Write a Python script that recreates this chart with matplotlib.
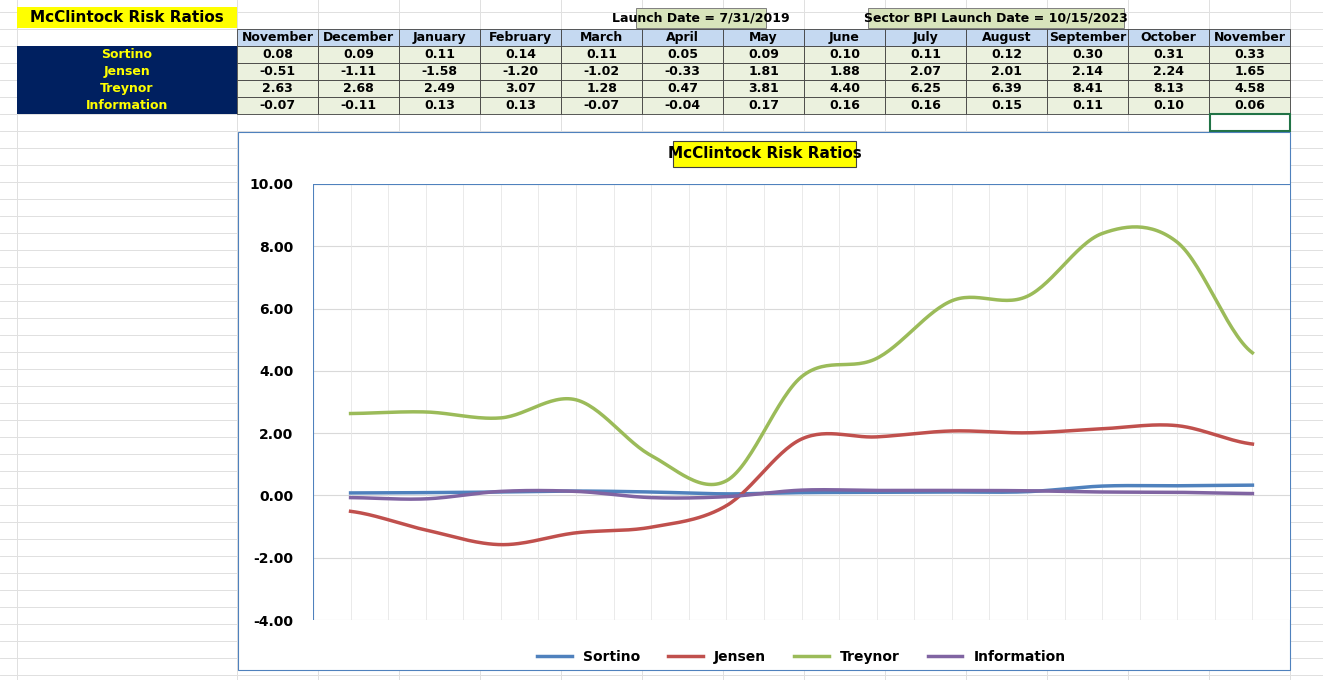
import matplotlib
matplotlib.use("Agg")
import matplotlib.pyplot as plt
import numpy as np
from matplotlib.patches import Rectangle

months = ["November","December","January","February","March","April","May","June",
          "July","August","September","October","November"]
sortino = [0.08,0.09,0.11,0.14,0.11,0.05,0.09,0.10,0.11,0.12,0.30,0.31,0.33]
jensen = [-0.51,-1.11,-1.58,-1.20,-1.02,-0.33,1.81,1.88,2.07,2.01,2.14,2.24,1.65]
treynor = [2.63,2.68,2.49,3.07,1.28,0.47,3.81,4.40,6.25,6.39,8.41,8.13,4.58]
information = [-0.07,-0.11,0.13,0.13,-0.07,-0.04,0.17,0.16,0.16,0.15,0.11,0.10,0.06]
series_names = ["Sortino","Jensen","Treynor","Information"]
series = [sortino, jensen, treynor, information]
colors = ["#4F81BD","#C0504D","#9BBB59","#8064A2"]

W, H = 1323, 680
fig = plt.figure(figsize=(W/100, H/100), dpi=100)
bg = fig.add_axes([0,0,1,1])
bg.set_xlim(0, W); bg.set_ylim(H, 0); bg.axis("off")

# spreadsheet grid
for y in np.arange(11.5, H, 17):
    bg.plot([0, W], [y, y], color="#E0E0E0", lw=0.7, zorder=0)
colx = [17] + [237 + 81*i for i in range(14)]
for x in colx:
    bg.plot([x, x], [0, H], color="#E0E0E0", lw=0.7, zorder=0)

# title cells
bg.add_patch(Rectangle((17, 7), 220, 21, fc="#FFFF00", ec="none"))
bg.text(127, 17.5, "McClintock Risk Ratios", ha="center", va="center", fontsize=11, fontweight="bold")
bg.add_patch(Rectangle((636, 8), 130, 20, fc="#D8E4BC", ec="#808080", lw=0.7))
bg.text(701, 18, "Launch Date = 7/31/2019", ha="center", va="center", fontsize=9, fontweight="bold")
bg.add_patch(Rectangle((868, 8), 256, 20, fc="#D8E4BC", ec="#808080", lw=0.7))
bg.text(996, 18, "Sector BPI Launch Date = 10/15/2023", ha="center", va="center", fontsize=9, fontweight="bold")

# table
rh = 17
y0 = 29
for i, m in enumerate(months):
    x = 237 + 81*i
    bg.add_patch(Rectangle((x, y0), 81, rh, fc="#C5D9F1", ec="#404040", lw=0.6))
    bg.text(x+40.5, y0+rh/2, m, ha="center", va="center", fontsize=9, fontweight="bold")
for r, (nm, vals) in enumerate(zip(series_names, series)):
    y = y0 + rh*(r+1)
    bg.add_patch(Rectangle((17, y), 220, rh, fc="#002060", ec="none"))
    bg.text(127, y+rh/2, nm, ha="center", va="center", fontsize=9, fontweight="bold", color="#FFFF00")
    for i, v in enumerate(vals):
        x = 237 + 81*i
        bg.add_patch(Rectangle((x, y), 81, rh, fc="#EBF1DE", ec="#404040", lw=0.6))
        bg.text(x+40.5, y+rh/2, f"{v:.2f}", ha="center", va="center", fontsize=9, fontweight="bold")
bg.add_patch(Rectangle((1210, 114), 80, 17, fc="none", ec="#217346", lw=1.5))

# chart area
bg.add_patch(Rectangle((238, 132), 1052, 538, fc="white", ec="#4F81BD", lw=0.8, zorder=1))
bg.add_patch(Rectangle((673, 141), 183, 26, fc="#FFFF00", ec="#404040", lw=0.8, zorder=2))
bg.text(764.5, 154, "McClintock Risk Ratios", ha="center", va="center", fontsize=11, fontweight="bold", zorder=3)

ax = fig.add_axes([313/W, 1-620/H, (1290-313)/W, (620-184)/H])
n = len(months)
ax.set_xlim(-0.5, n-0.5)
ax.set_ylim(-4, 10)
ax.set_yticks(np.arange(-4, 10.01, 2))
ax.set_yticklabels([f"{v:.2f}" for v in np.arange(-4, 10.01, 2)], fontsize=10, fontweight="bold")
ax.set_xticks([])
for v in np.arange(-4, 10.01, 2):
    ax.axhline(v, color="#D9D9D9", lw=0.8, zorder=0)
for k in np.arange(-0.5, n, 0.5):
    ax.axvline(k, color="#E6E6E6", lw=0.6, zorder=0)
for s in ["top", "right", "left"]:
    ax.spines[s].set_visible(False)
ax.spines["bottom"].set_visible(False)
ax.axvline(-0.5, color="#4F81BD", lw=0.8)
ax.axhline(10, color="#4F81BD", lw=0.8)
ax.tick_params(axis="y", length=0, pad=14)

def smooth(vals, steps=30):
    p = np.array(vals, float)
    p = np.concatenate([[p[0]], p, [p[-1]]])
    xs, ys = [], []
    for i in range(1, len(p)-2):
        t = np.linspace(0, 1, steps, endpoint=False)
        p0, p1, p2, p3 = p[i-1], p[i], p[i+1], p[i+2]
        y = 0.5*((2*p1) + (-p0+p2)*t + (2*p0-5*p1+4*p2-p3)*t**2 + (-p0+3*p1-3*p2+p3)*t**3)
        xs.extend(i-1+t); ys.extend(y)
    xs.append(len(vals)-1); ys.append(vals[-1])
    return xs, ys

for nm, vals, c in zip(series_names, series, colors):
    xs, ys = smooth(vals)
    ax.plot(xs, ys, color=c, lw=2.5, label=nm)
ax.legend(loc="upper center", bbox_to_anchor=(0.5, -0.04), ncol=4, frameon=False,
          prop={"weight": "bold", "size": 10}, handlelength=2.5)

fig.savefig("out.png", dpi=100)
